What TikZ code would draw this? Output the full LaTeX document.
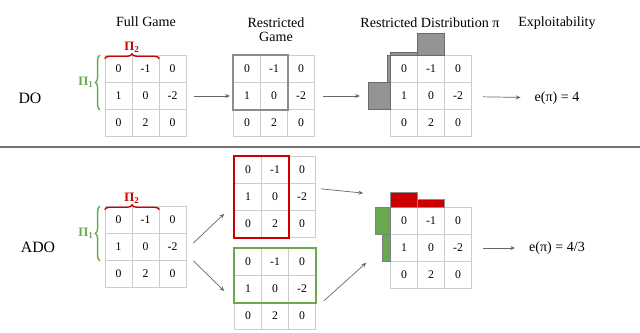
\documentclass[tikz,border=0pt]{standalone}
\usepackage{fontspec}
\setmainfont{Liberation Serif}
\usetikzlibrary{matrix,arrows.meta,decorations.pathreplacing}

\definecolor{redpi}{HTML}{CC0000}
\definecolor{greenpi}{HTML}{6AA84F}

\tikzset{
    game/.style={
        matrix of nodes,
        ampersand replacement=\&,
        inner sep=0pt,
        column sep=-0.6pt,
        row sep=-0.6pt,
        nodes={draw=black!20, line width=0.6pt, minimum size=0.81cm,
            inner sep=0pt, font=\fontsize{10}{12}\selectfont}
    },
    conn/.style={draw=black!60, line width=0.6pt,
        -{Stealth[length=4pt,width=3.5pt]}},
    title/.style={font=\fontsize{12}{14}\selectfont, align=center},
    side/.style={font=\fontsize{13.5}{15}\selectfont},
    pibrace/.style={decorate, decoration={brace, amplitude=4pt},
        line width=1.2pt},
    pilabel/.style={font=\fontsize{11}{12}\selectfont\bfseries, inner sep=1pt},
    grayprob/.style={fill=black!42, draw=black!58, line width=0.6pt},
    redprob/.style={fill=redpi, draw=black!45, line width=0.5pt},
    greenprob/.style={fill=greenpi, draw=black!50, line width=0.5pt},
}

\newcommand{\payoffs}[2]{%
    \matrix (#1) [game] at (#2) {
        0 \& -1 \& 0 \\
        1 \& 0 \& -2 \\
        0 \& 2 \& 0 \\
    };%
}

\begin{document}
\begin{tikzpicture}[x=0.03cm, y=-0.03cm]
    \useasboundingbox (0,0) rectangle (640,332);

    % column titles
    \node [title] (tfull) at (146,22) {Full Game};
    \node [title] (trest) at (276,30) {Restricted\\[-2pt]Game};
    \node [title] (tdist) at (430,23) {Restricted Distribution π};
    \node [title] (texpl) at (557,23) {Exploitability};

    % separator
    \draw [black!55, line width=1pt] (0,147) -- (640,147);

    %%% DO row
    \node [side] (do) at (30,98) {DO};

    \payoffs{fullDO}{145.5,96}
    \payoffs{restDO}{274,96}
    \payoffs{distDO}{431,96}

    \draw [redpi, pibrace]
        ([yshift=-3]fullDO-1-1.north west)
        --
        ([yshift=-3]fullDO-1-2.north east)
            node [midway, above=4pt, pilabel, redpi] {Π\textsubscript{2}}
        ;
    \draw [greenpi, pibrace]
        ([xshift=-4]fullDO-2-1.south west)
        --
        ([xshift=-4]fullDO-1-1.north west)
            node [midway, left=4pt, pilabel, greenpi] {Π\textsubscript{1}}
        ;

    \draw [black!45, line width=1.3pt]
        (restDO-1-1.north west) rectangle (restDO-2-2.south east);

    % distribution bars
    \draw [grayprob] (distDO-1-2.north west) rectangle ++(27,-22);
    \draw [grayprob] (distDO-1-1.north west) rectangle ++(27,-2.5);
    \draw [grayprob] (distDO-1-1.north west) rectangle ++(-3,27);
    \draw [grayprob] (distDO-2-1.north west) rectangle ++(-22,27);

    \node [title] (expDO) at (557,98) {e(π) = 4};

    \draw [conn, shorten <=0.21cm, shorten >=0.09cm] (fullDO) -- (restDO);
    \draw [conn, shorten <=0.24cm, shorten >=0.9cm] (restDO) -- (distDO);
    \draw [conn, shorten <=0.33cm, shorten >=0.3cm] (distDO) -- (expDO);

    %%% ADO row
    \node [side] (ado) at (38,247) {ADO};

    \payoffs{fullADO}{145.5,247}
    \payoffs{redADO}{275,197}
    \payoffs{greenADO}{275,289}
    \payoffs{distADO}{431,248}

    \draw [redpi, pibrace]
        ([yshift=-3]fullADO-1-1.north west)
        --
        ([yshift=-3]fullADO-1-2.north east)
            node [midway, above=4pt, pilabel, redpi] {Π\textsubscript{2}}
        ;
    \draw [greenpi, pibrace]
        ([xshift=-4]fullADO-2-1.south west)
        --
        ([xshift=-4]fullADO-1-1.north west)
            node [midway, left=4pt, pilabel, greenpi] {Π\textsubscript{1}}
        ;

    \draw [redpi, line width=1.6pt]
        (redADO-1-1.north west) rectangle (redADO-3-2.south east);
    \draw [greenpi, line width=1.6pt]
        (greenADO-1-1.north west) rectangle (greenADO-2-3.south east);

    % distribution bars
    \draw [redprob] (distADO-1-1.north west) rectangle ++(27,-15);
    \draw [redprob] (distADO-1-2.north west) rectangle ++(27,-8);
    \draw [greenprob] (distADO-1-1.north west) rectangle ++(-15,27);
    \draw [greenprob] (distADO-2-1.north west) rectangle ++(-8,27);

    \node [title] (expADO) at (557,248) {e(π) = 4/3};

    \draw [conn]
        ([shift={(7,-4)}]fullADO-2-3.east)
        --
        ([shift={(-10,-24)}]redADO-3-1.south west);
    \draw [conn]
        ([shift={(7,0)}]fullADO-2-3.south east)
        --
        ([shift={(-10,2)}]greenADO-2-1.west);
    \draw [conn]
        ([shift={(5,5)}]redADO-1-3.south east)
        --
        ([shift={(-27,-14)}]distADO-1-1.north west);
    \draw [conn]
        ([shift={(8,-2)}]greenADO-2-3.south east)
        --
        ([shift={(-24,1)}]distADO-2-1.south west);
    \draw [conn, shorten <=0.33cm, shorten >=0.3cm] (distADO) -- (expADO);
\end{tikzpicture}
\end{document}
